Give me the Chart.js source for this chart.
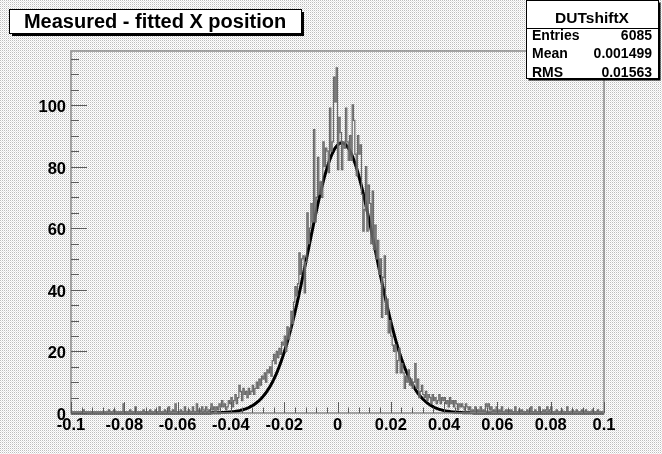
<!DOCTYPE html>
<html>
<head>
<meta charset="utf-8">
<script src="https://cdn.jsdelivr.net/npm/chart.js@4.4.0/dist/chart.umd.min.js"></script>
<style>
  html, body { margin: 0; padding: 0; background: #ffffff; }
  #wrap { width: 662px; height: 454px; position: relative; }
</style>
</head>
<body>
<div id="wrap"><canvas id="c" width="662" height="454"></canvas></div>
<script>
// Histogram binning: 400 bins over [-0.1, 0.1]
const xMin = -0.1;
const xMax = 0.1;
const binWidth = 0.0005;
const yMax = 117.5;

// Bin contents, 20 bins per row
const binCounts = [
  0,0,0,0,0,0,0,0,0,0,1,0,0,0,0,0,0,0,0,0,
  0,0,0,0,0,0,0,0,0,1,0,0,0,1,0,0,0,0,0,0,
  3,0,0,0,0,1,0,0,0,2,0,0,0,0,0,1,0,0,0,0,
  1,0,0,0,1,0,0,2,0,0,0,1,0,0,2,0,0,1,0,3,
  0,0,0,1,0,0,2,0,0,1,0,0,2,0,0,3,0,1,0,2,
  1,0,2,1,0,1,3,1,2,0,2,1,3,2,4,2,3,1,2,4,
  3,5,2,4,6,3,5,9,7,4,8,6,7,5,8,6,7,9,6,8,
  10,8,11,9,12,11,13,10,14,13,15,12,17,19,16,20,18,21,19,23,
  22,25,20,28,24,27,33,29,36,41,38,42,52,45,50,51,39,49,65,55,
  60,68,62,92,62,70,83,71,75,70,88,80,86,85,78,99,85,88,109,101,
  112,79,96,91,79,88,86,99,88,82,90,82,100,95,84,77,90,84,87,71,
  59,66,80,59,74,68,55,72,53,61,50,56,45,50,31,44,51,32,37,26,
  30,25,22,20,22,13,17,21,13,16,13,8,12,10,14,9,11,8,10,16,
  8,11,5,7,9,6,5,7,4,6,5,3,6,4,5,3,4,6,3,5,
  4,5,3,4,2,5,3,4,2,4,3,1,3,2,3,2,1,3,2,1,
  2,0,1,0,2,0,1,0,2,0,1,0,3,2,3,1,2,0,1,0,
  2,0,1,0,2,0,0,1,0,1,0,1,0,0,2,0,0,1,0,1,
  0,0,0,1,0,0,2,0,0,1,0,0,2,0,0,1,0,1,2,0,
  1,2,0,0,0,1,0,0,0,1,0,0,0,2,0,0,0,1,0,0,
  1,0,0,0,1,0,0,1,0,0,0,0,1,0,0,0,1,0,0,0
];

// Gaussian fit parameters
const fitAmplitude = 87.7;
const fitMean = 0.0016;
const fitSigma = 0.0125;

// Axis labels
const xTickValues = [-0.1, -0.08, -0.06, -0.04, -0.02, 0, 0.02, 0.04, 0.06, 0.08, 0.1];
const xTickLabels = ['-0.1', '-0.08', '-0.06', '-0.04', '-0.02', '0', '0.02', '0.04', '0.06', '0.08', '0.1'];
const yTickValues = [0, 20, 40, 60, 80, 100];
const yTickLabels = ['0', '20', '40', '60', '80', '100'];

// Title and statistics box
const histTitle = 'Measured - fitted X position';
const statsName = 'DUTshiftX';
const statsLabels = ['Entries', 'Mean', 'RMS'];
const statsValues = ['6085', '0.001499', '0.01563'];

// Step outline points at bin low edges
const histPoints = [{ x: xMin, y: 0 }];
binCounts.forEach((v, i) => histPoints.push({ x: xMin + i * binWidth, y: v }));
histPoints.push({ x: xMax, y: binCounts[binCounts.length - 1] });
histPoints.push({ x: xMax, y: 0 });

// Fitted Gaussian sampled along the axis
const fitPoints = [];
for (let i = 0; i <= 400; i++) {
  const x = xMin + i * binWidth;
  const z = (x - fitMean) / fitSigma;
  fitPoints.push({ x: x, y: fitAmplitude * Math.exp(-0.5 * z * z) });
}

const FONT = '"Liberation Sans", Arial, Helvetica, sans-serif';

function makePattern(ctx) {
  const p = document.createElement('canvas');
  p.width = 2; p.height = 2;
  const g = p.getContext('2d');
  g.fillStyle = '#ffffff'; g.fillRect(0, 0, 2, 2);
  g.fillStyle = '#bdbdbd'; g.fillRect(0, 0, 1, 1);
  g.fillStyle = '#e6e6e6'; g.fillRect(1, 1, 1, 1);
  return ctx.createPattern(p, 'repeat');
}

const rootStyle = {
  id: 'rootStyle',
  beforeDraw(chart) {
    const ctx = chart.ctx;
    ctx.save();
    ctx.fillStyle = makePattern(ctx);
    ctx.fillRect(0, 0, chart.width, chart.height);
    ctx.restore();
  },
  afterDraw(chart) {
    const ctx = chart.ctx;
    const a = chart.chartArea;
    const xs = chart.scales.x, ys = chart.scales.y;
    ctx.save();

    // frame
    ctx.strokeStyle = '#8a8a8a';
    ctx.lineWidth = 1.5;
    ctx.strokeRect(a.left, a.top, a.right - a.left, a.bottom - a.top);

    // inward tick marks
    ctx.strokeStyle = '#5a5a5a';
    ctx.lineWidth = 1;
    ctx.beginPath();
    for (let k = 0; k <= 50; k++) {
      const v = xMin + k * 0.004;
      const px = Math.round(xs.getPixelForValue(v)) + 0.5;
      const len = (k % 5 === 0) ? 11 : 5.5;
      ctx.moveTo(px, a.bottom);
      ctx.lineTo(px, a.bottom - len);
    }
    for (let v = 0; v <= yMax; v += 5) {
      const py = Math.round(ys.getPixelForValue(v)) + 0.5;
      const len = (v % 20 === 0) ? 16 : 8;
      ctx.moveTo(a.left, py);
      ctx.lineTo(a.left + len, py);
    }
    ctx.stroke();

    // tick labels
    ctx.fillStyle = '#000000';
    ctx.font = 'bold 16.5px ' + FONT;
    ctx.textAlign = 'center';
    ctx.textBaseline = 'alphabetic';
    xTickValues.forEach((v, i) => {
      ctx.fillText(xTickLabels[i], xs.getPixelForValue(v), a.bottom + 17);
    });
    ctx.textAlign = 'right';
    yTickValues.forEach((v, i) => {
      ctx.fillText(yTickLabels[i], a.left - 5, ys.getPixelForValue(v) + 7);
    });

    // title box
    ctx.fillStyle = '#000000';
    ctx.fillRect(12, 12, 292, 24);
    ctx.fillStyle = '#ffffff';
    ctx.fillRect(9.5, 9.5, 292, 24);
    ctx.strokeStyle = '#000000';
    ctx.lineWidth = 1;
    ctx.strokeRect(9.5, 9.5, 292, 24);
    ctx.fillStyle = '#000000';
    ctx.font = 'bold 20px ' + FONT;
    ctx.textAlign = 'center';
    ctx.fillText(histTitle, 155, 27.5);

    // statistics box
    const bx = 526.5, by = 0.5, bw = 132, bh = 78;
    ctx.fillStyle = '#000000';
    ctx.fillRect(bx + 2, by + 2, bw, bh);
    ctx.fillStyle = '#ffffff';
    ctx.fillRect(bx, by, bw, bh);
    ctx.strokeRect(bx, by, bw, bh);
    ctx.beginPath();
    ctx.moveTo(bx, 28.5);
    ctx.lineTo(bx + bw, 28.5);
    ctx.stroke();
    ctx.fillStyle = '#000000';
    ctx.font = 'bold 15.5px ' + FONT;
    ctx.textAlign = 'center';
    ctx.fillText(statsName, 592, 22.5);
    ctx.font = 'bold 14px ' + FONT;
    const rowY = [39.5, 58, 76.5];
    statsLabels.forEach((lab, i) => {
      ctx.textAlign = 'left';
      ctx.fillText(lab, 532, rowY[i]);
      ctx.textAlign = 'right';
      ctx.fillText(statsValues[i], 652, rowY[i]);
    });
    ctx.restore();
  }
};

new Chart(document.getElementById('c'), {
  type: 'line',
  data: {
    datasets: [
      {
        label: statsName,
        data: histPoints,
        stepped: 'after',
        borderColor: '#6a6a6a',
        borderWidth: 1.2,
        pointRadius: 0,
        fill: false
      },
      {
        label: 'gaus',
        data: fitPoints,
        borderColor: '#000000',
        borderWidth: 3,
        pointRadius: 0,
        tension: 0,
        fill: false,
        clip: 4
      }
    ]
  },
  options: {
    responsive: false,
    animation: false,
    devicePixelRatio: 1,
    parsing: true,
    layout: { padding: { left: 0, top: 51, right: 58, bottom: 0 } },
    plugins: { legend: { display: false }, tooltip: { enabled: false }, title: { display: false } },
    scales: {
      x: {
        type: 'linear',
        min: xMin,
        max: xMax,
        grid: { display: false, drawTicks: false },
        border: { display: false },
        ticks: { display: false },
        afterFit(scale) { scale.height = 41; }
      },
      y: {
        type: 'linear',
        min: 0,
        max: yMax,
        grid: { display: false, drawTicks: false },
        border: { display: false },
        ticks: { display: false },
        afterFit(scale) { scale.width = 71; }
      }
    }
  },
  plugins: [rootStyle]
});
</script>
</body>
</html>
